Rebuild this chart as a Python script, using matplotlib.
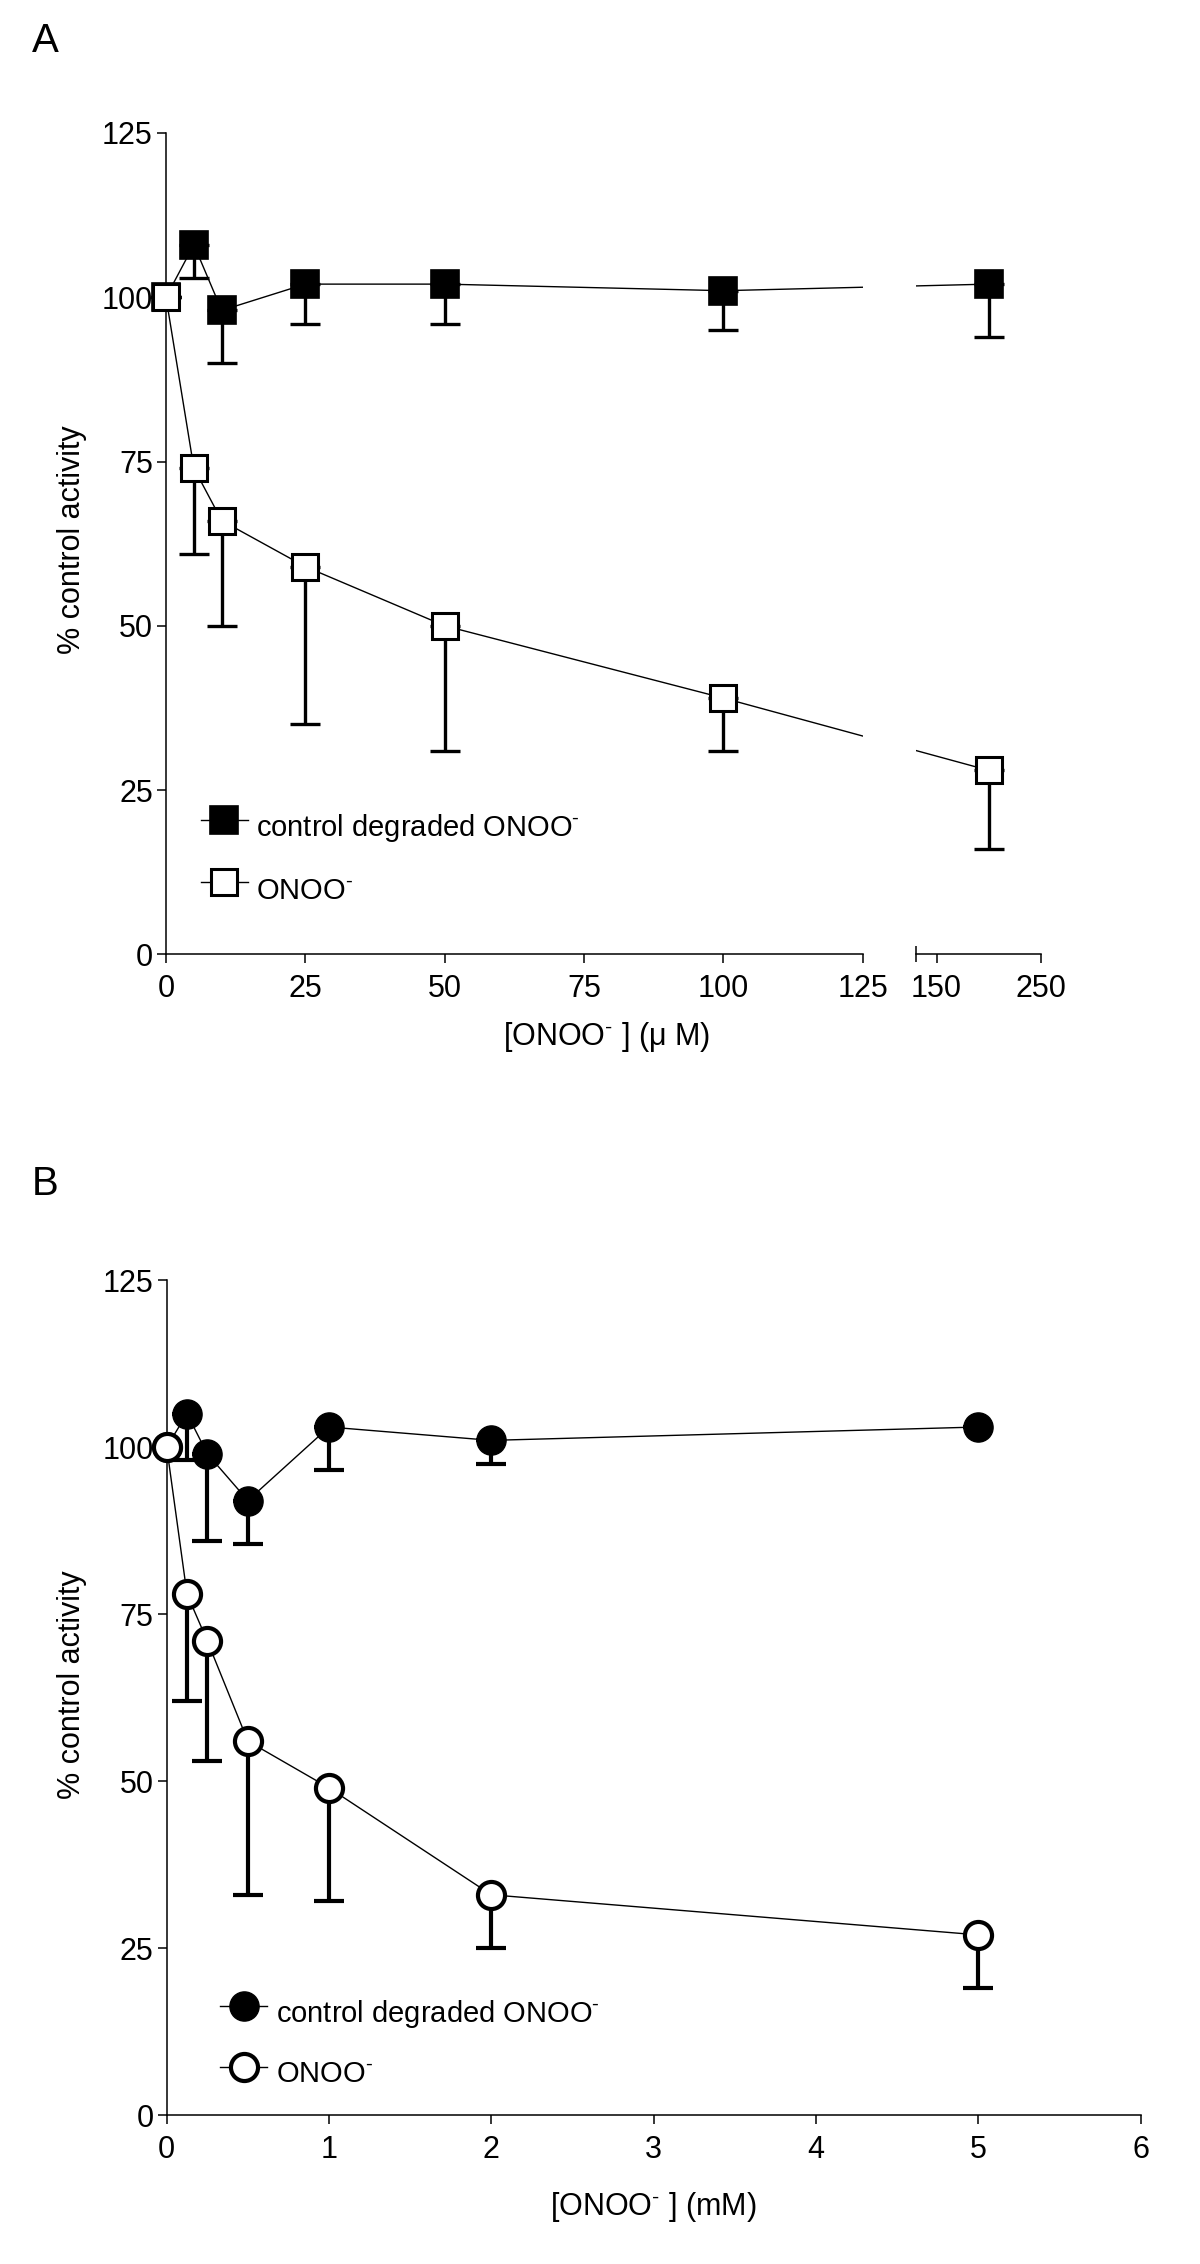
import numpy as np
import matplotlib
matplotlib.use("Agg")
import matplotlib.pyplot as plt
import matplotlib.transforms as mtransforms
from matplotlib.lines import Line2D

plt.rcParams['font.family'] = ['Liberation Sans', 'DejaVu Sans']
plt.rcParams['mathtext.fontset'] = 'custom'
plt.rcParams['mathtext.rm'] = 'Liberation Sans'
plt.rcParams['mathtext.it'] = 'Liberation Sans:italic'
plt.rcParams['mathtext.bf'] = 'Liberation Sans:bold'

# ---------------- data: panel A (µM) ----------------
a_conc = np.array([0, 5, 10, 25, 50, 100, 200])
a_ctrl = np.array([100, 108, 98, 102, 102, 101, 102])
a_ctrl_lo = np.array([0, 5, 8, 6, 6, 6, 8])
a_onoo = np.array([100, 74, 66, 59, 50, 39, 28])
a_onoo_lo = np.array([0, 13, 16, 24, 19, 8, 12])

# ---------------- data: panel B (mM) ----------------
b_conc = np.array([0, 0.125, 0.25, 0.5, 1, 2, 5])
b_ctrl = np.array([100, 105, 99, 92, 103, 101, 103])
b_ctrl_lo = np.array([0, 7, 13, 6.5, 6.5, 3.5, 0])
b_onoo = np.array([100, 78, 71, 56, 49, 33, 27])
b_onoo_lo = np.array([0, 16, 18, 23, 17, 8, 8])

yticks = [0, 25, 50, 75, 100, 125]
a_ticks1 = [0, 25, 50, 75, 100, 125]
a_ticks2 = [150, 250]
b_ticks = [0, 1, 2, 3, 4, 5, 6]

SUP = r'$^{\text{-}}$'
lab_ctrl = 'control degraded ONOO' + SUP
lab_onoo = 'ONOO' + SUP

W, H = 1200, 2264
fig = plt.figure(figsize=(W / 100, H / 100), dpi=100)

FS = 22
LW_SPINE = 1.1


def px_axes(l, r, b, t):
    return [l / W, 1 - b / H, (r - l) / W, (b - t) / H]


def style_axes(ax, left=True):
    for s in ['top', 'right']:
        ax.spines[s].set_visible(False)
    ax.spines['left'].set_visible(left)
    ax.spines['bottom'].set_linewidth(LW_SPINE)
    ax.spines['left'].set_linewidth(LW_SPINE)
    ax.tick_params(axis='both', which='major', direction='out', length=6.5,
                   width=LW_SPINE, labelsize=FS)
    ax.tick_params(axis='x', pad=8)
    ax.tick_params(axis='y', pad=3)
    ax.set_ylim(0, 125)
    ax.set_facecolor('none')


def draw_marks(ax, x, y, lo, xlim, filled, marker, ms, mew, elw):
    x = np.asarray(x, float)
    mask = (x >= xlim[0]) & (x <= xlim[1])
    ax.errorbar(x[mask], y[mask], yerr=[lo[mask], np.zeros(mask.sum())],
                fmt='none', ecolor='black', elinewidth=elw, capsize=10.5,
                capthick=elw, zorder=3, clip_on=False)
    ax.plot(x[mask], y[mask], linestyle='none', marker=marker, ms=ms,
            mew=mew, mec='black', mfc='black' if filled else 'white',
            zorder=4, clip_on=False)


def draw_line_screen(axes_list, limits, x, y):
    """Straight line segments in screen space across broken axes."""
    x = np.asarray(x, float)
    y = np.asarray(y, float)
    disp = np.zeros((len(x), 2))
    for ax, (lo, hi) in zip(axes_list, limits):
        m = (x >= lo) & (x <= hi)
        disp[m] = ax.transData.transform(np.column_stack([x[m], y[m]]))
    for ax in axes_list:
        pts = ax.transData.inverted().transform(disp)
        ax.plot(pts[:, 0], pts[:, 1], '-', color='black', lw=1.0, zorder=2,
                clip_on=True)


def shift_legend_text(leg, dy_px):
    for t in leg.get_texts():
        t.set_transform(t.get_transform() +
                        mtransforms.ScaledTranslation(0, -dy_px / 100, fig.dpi_scale_trans))


# ---------------- Panel A ----------------
yA_bot, yA_top = 954.3, 133.0
axA1 = fig.add_axes(px_axes(166, 862.7, yA_bot, yA_top))
axA2 = fig.add_axes(px_axes(915.7, 1040.7, yA_bot, yA_top))
xlimA1 = (0, 125)
xlimA2 = (130, 250)

style_axes(axA1)
style_axes(axA2, left=False)
axA1.set_xlim(*xlimA1)
axA2.set_xlim(*xlimA2)
axA1.set_xticks(a_ticks1)
axA1.set_yticks(yticks)
axA2.set_xticks(a_ticks2)
axA2.set_yticks([])
# break markers
axA1.set_xticks([xlimA1[1]], minor=True)
axA1.tick_params(axis='x', which='minor', direction='in', length=5, width=LW_SPINE)
axA2.set_xticks([xlimA2[0]], minor=True)
axA2.tick_params(axis='x', which='minor', direction='inout', length=11, width=LW_SPINE)

SQ_MS = 19.5
draw_line_screen([axA1, axA2], [xlimA1, xlimA2], a_conc, a_ctrl)
draw_line_screen([axA1, axA2], [xlimA1, xlimA2], a_conc, a_onoo)
for ax, xl in [(axA1, xlimA1), (axA2, xlimA2)]:
    draw_marks(ax, a_conc, a_ctrl, a_ctrl_lo, xl, True, 's', SQ_MS, 1.2, 2.4)
    draw_marks(ax, a_conc, a_onoo, a_onoo_lo, xl, False, 's', SQ_MS - 1, 2.2, 2.4)

legA = [Line2D([], [], color='black', lw=1.0, marker='s', ms=SQ_MS, mew=1.2, mfc='black', mec='black'),
        Line2D([], [], color='black', lw=1.0, marker='s', ms=SQ_MS - 1, mew=2.2, mfc='white', mec='black')]
lA = axA1.legend(legA, [lab_ctrl, lab_onoo], loc='upper left', bbox_to_anchor=(0.05, 0.180),
                 frameon=False, fontsize=21, handlelength=1.6, handletextpad=0.3,
                 labelspacing=1.1, borderpad=0, borderaxespad=0, numpoints=1)
shift_legend_text(lA, 6)

axA1.set_ylabel('% control activity', fontsize=FS, va='center')
axA1.yaxis.set_label_coords(-0.135, 0.505)
axA1.set_xlabel('[ONOO' + SUP + ' ] (μ M)', fontsize=FS, va='center')
axA1.xaxis.set_label_coords(0.632, -0.101)

# ---------------- Panel B ----------------
yB_bot, yB_top = 2115.3, 1280.0
axB = fig.add_axes(px_axes(166.7, 1140.5, yB_bot, yB_top))
style_axes(axB)
xlimB = (0, 6)
axB.set_xlim(*xlimB)
axB.set_xticks(b_ticks)
axB.set_yticks(yticks)
draw_line_screen([axB], [xlimB], b_conc, b_ctrl)
draw_line_screen([axB], [xlimB], b_conc, b_onoo)
draw_marks(axB, b_conc, b_ctrl, b_ctrl_lo, xlimB, True, 'o', 21, 1.0, 3.0)
draw_marks(axB, b_conc, b_onoo, b_onoo_lo, xlimB, False, 'o', 19.5, 3.0, 3.0)

legB = [Line2D([], [], color='black', lw=1.0, marker='o', ms=21, mew=1.0, mfc='black', mec='black'),
        Line2D([], [], color='black', lw=1.0, marker='o', ms=19.5, mew=3.0, mfc='white', mec='black')]
lB = axB.legend(legB, [lab_ctrl, lab_onoo], loc='upper left', bbox_to_anchor=(0.055, 0.147),
                frameon=False, fontsize=21, handlelength=1.6, handletextpad=0.3,
                labelspacing=1.05, borderpad=0, borderaxespad=0, numpoints=1)
shift_legend_text(lB, 5)

axB.set_ylabel('% control activity', fontsize=FS, va='center')
axB.yaxis.set_label_coords(-0.097, 0.515)
axB.set_xlabel('[ONOO' + SUP + ' ] (mM)', fontsize=FS, va='center')
axB.xaxis.set_label_coords(0.5, -0.11)

# panel letters
fig.text(32 / W, 1 - 52 / H, 'A', fontsize=29, va='baseline', ha='left')
fig.text(32 / W, 1 - 1195 / H, 'B', fontsize=29, va='baseline', ha='left')

fig.savefig('out.png', dpi=100, facecolor='white')
